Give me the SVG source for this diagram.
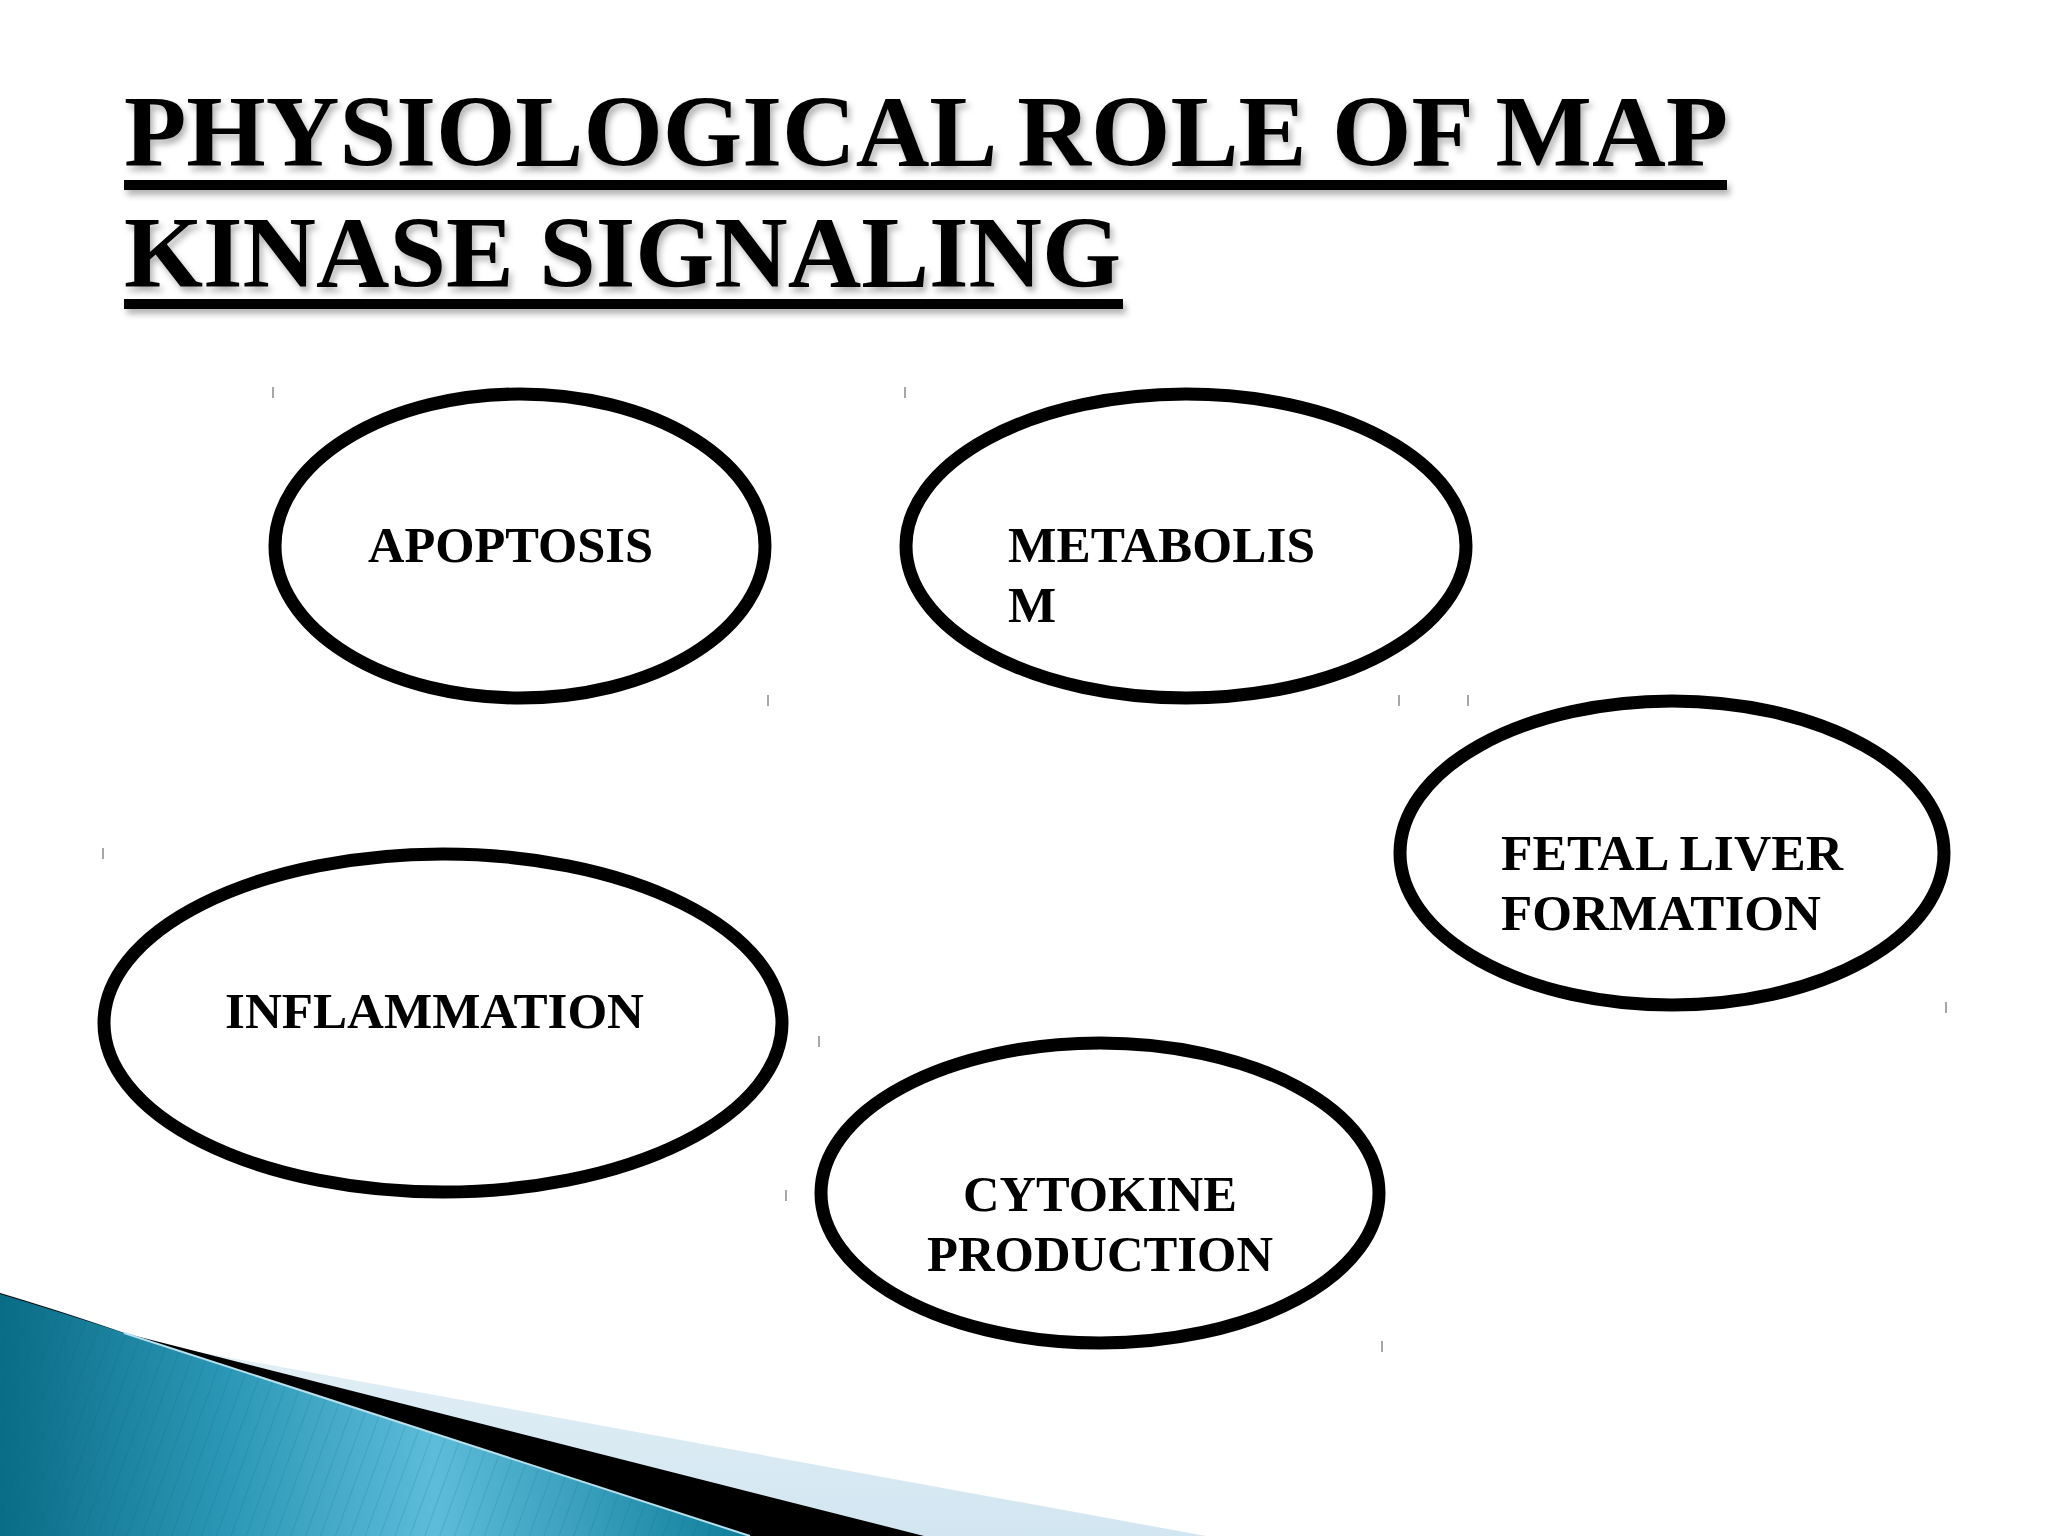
<svg xmlns="http://www.w3.org/2000/svg" width="2048" height="1536" viewBox="0 0 2048 1536">
<defs>
<style>
.title{font-family:"Liberation Serif","Times New Roman",serif;font-weight:bold;font-size:101px;fill:#000}
.lbl{font-family:"Liberation Serif","Times New Roman",serif;font-weight:bold;font-size:51px;fill:#000}
.node{fill:#fff;stroke:#000;stroke-width:13}
.tick{stroke:#8a8a8a;stroke-width:1.5}
</style>
<filter id="sh" x="-5%" y="-20%" width="110%" height="150%">
<feDropShadow dx="3" dy="5" stdDeviation="3" flood-color="#000" flood-opacity="0.3"/>
</filter>
<linearGradient id="teal" x1="0" y1="0" x2="1" y2="0">
<stop offset="0" stop-color="#0a6c86"/>
<stop offset="0.3" stop-color="#2b97b6"/>
<stop offset="0.58" stop-color="#5dbcd9"/>
<stop offset="1" stop-color="#0f7e9b"/>
</linearGradient>
<linearGradient id="light" x1="0" y1="0" x2="0" y2="1">
<stop offset="0" stop-color="#e6f1f7"/>
<stop offset="1" stop-color="#d2e6f1"/>
</linearGradient>
<pattern id="stripes" width="14" height="14" patternUnits="userSpaceOnUse" patternTransform="rotate(20)">
<rect width="1" height="14" fill="#0b5f78" opacity="0.18"/>
</pattern>
</defs>
<rect width="2048" height="1536" fill="#fff"/>

<g id="decor">
<path d="M0,1292 Q90,1320 166,1346 L1206,1536 L0,1536 Z" fill="url(#light)"/>
<path d="M0,1293 Q70,1314 124,1333 L924,1536 L0,1536 Z" fill="#000"/>
<path d="M0,1294 Q60,1312 124,1333 Q420,1430 750,1536 L0,1536 Z" fill="url(#teal)"/>
<path d="M0,1294 Q60,1312 124,1333 Q420,1430 750,1536 L0,1536 Z" fill="url(#stripes)"/>
<path d="M124,1333 Q420,1430 750,1536" fill="none" stroke="#b5e0ec" stroke-width="2"/>
</g>

<g id="title" filter="url(#sh)">
<text class="title" x="124" y="166" textLength="1604" lengthAdjust="spacingAndGlyphs">PHYSIOLOGICAL ROLE OF MAP</text>
<rect x="124" y="180" width="1603" height="10" fill="#000"/>
<text class="title" x="124" y="287" textLength="997" lengthAdjust="spacingAndGlyphs">KINASE SIGNALING</text>
<rect x="124" y="299" width="999" height="10" fill="#000"/>
</g>

<g id="ticks">
<line class="tick" x1="273" y1="387" x2="273" y2="398"/>
<line class="tick" x1="905" y1="387" x2="905" y2="398"/>
<line class="tick" x1="768" y1="695" x2="768" y2="706"/>
<line class="tick" x1="1399" y1="695" x2="1399" y2="706"/>
<line class="tick" x1="1468" y1="695" x2="1468" y2="706"/>
<line class="tick" x1="103" y1="848" x2="103" y2="859"/>
<line class="tick" x1="1946" y1="1002" x2="1946" y2="1013"/>
<line class="tick" x1="819" y1="1036" x2="819" y2="1047"/>
<line class="tick" x1="786" y1="1190" x2="786" y2="1201"/>
<line class="tick" x1="1382" y1="1341" x2="1382" y2="1352"/>
</g>

<g id="connectors"></g>

<g id="apoptosis">
<ellipse class="node" cx="520" cy="546" rx="245" ry="152"/>
<text class="lbl" x="368" y="562" textLength="285" lengthAdjust="spacingAndGlyphs">APOPTOSIS</text>
</g>
<g id="metabolism">
<ellipse class="node" cx="1186" cy="546" rx="280" ry="152"/>
<text class="lbl" x="1008" y="562" textLength="307" lengthAdjust="spacingAndGlyphs">METABOLIS</text>
<text class="lbl" x="1008" y="622">M</text>
</g>
<g id="fetal-liver">
<ellipse class="node" cx="1672" cy="853" rx="272" ry="152"/>
<text class="lbl" x="1501" y="870" textLength="342" lengthAdjust="spacingAndGlyphs">FETAL LIVER</text>
<text class="lbl" x="1501" y="930" textLength="320" lengthAdjust="spacingAndGlyphs">FORMATION</text>
</g>
<g id="inflammation">
<ellipse class="node" cx="443" cy="1023" rx="339" ry="169"/>
<text class="lbl" x="225" y="1028" textLength="419" lengthAdjust="spacingAndGlyphs">INFLAMMATION</text>
</g>
<g id="cytokine">
<ellipse class="node" cx="1100" cy="1193" rx="279" ry="150"/>
<text class="lbl" x="963" y="1211" textLength="274" lengthAdjust="spacingAndGlyphs">CYTOKINE</text>
<text class="lbl" x="927" y="1271" textLength="346" lengthAdjust="spacingAndGlyphs">PRODUCTION</text>
</g>
</svg>
